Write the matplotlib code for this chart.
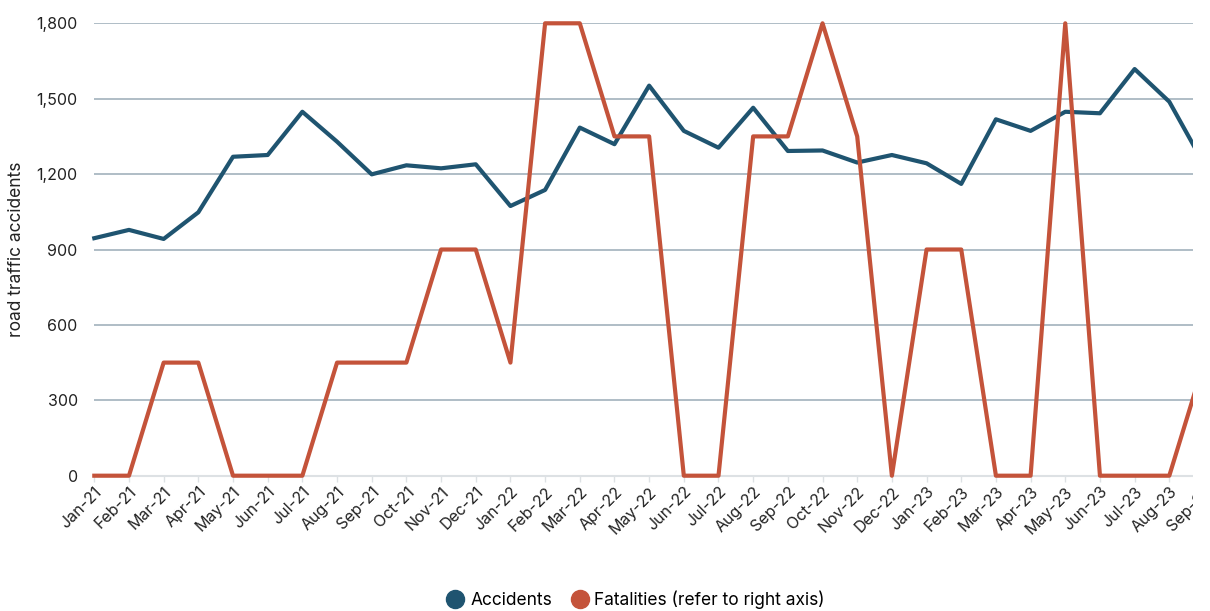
import matplotlib
matplotlib.use("Agg")
from matplotlib import pyplot as plt
from matplotlib.lines import Line2D
from matplotlib.patches import Rectangle

months = ['Jan-21', 'Feb-21', 'Mar-21', 'Apr-21', 'May-21', 'Jun-21', 'Jul-21', 'Aug-21',
          'Sep-21', 'Oct-21', 'Nov-21', 'Dec-21', 'Jan-22', 'Feb-22', 'Mar-22', 'Apr-22',
          'May-22', 'Jun-22', 'Jul-22', 'Aug-22', 'Sep-22', 'Oct-22', 'Nov-22', 'Dec-22',
          'Jan-23', 'Feb-23', 'Mar-23', 'Apr-23', 'May-23', 'Jun-23', 'Jul-23', 'Aug-23',
          'Sep-23']
accidents = [945, 978, 942, 1048, 1269, 1276, 1448, 1329, 1199, 1235, 1223, 1239,
             1073, 1137, 1385, 1319, 1552, 1372, 1305, 1464, 1292, 1294, 1246, 1276,
             1243, 1161, 1418, 1372, 1448, 1442, 1618, 1488, 1240]
fatalities = [0, 0, 1, 1, 0, 0, 0, 1, 1, 1, 2, 2, 1, 4, 4, 3, 3, 0, 0, 3, 3, 4, 3, 0,
              2, 2, 0, 0, 4, 0, 0, 0, 1]

blue = '#1f5470'
red = '#c4533a'
grid_col = '#a9b7c1'

plt.rcParams['font.family'] = ['Inter', 'DejaVu Sans']

W, H = 1210, 611
fig = plt.figure(figsize=(W / 100, H / 100), dpi=100)
step = (1169.3 - 94.3) / 31
x_right = 32.5
ax = fig.add_axes([94.3 / W, (H - 475.7) / H, x_right * step / W, 452.4 / H])

x = list(range(len(months)))
ax.set_xlim(0, x_right)
ax.set_ylim(0, 1800)
ax.set_yticks([0, 300, 600, 900, 1200, 1500, 1800])
ax.set_yticklabels(['0', '300', '600', '900', '1,200', '1,500', '1,800'])
ax.yaxis.grid(True, color=grid_col, linewidth=1.3)
ax.set_axisbelow(True)
for s in ['top', 'right', 'left']:
    ax.spines[s].set_visible(False)
ax.spines['bottom'].set_color('#dde1e4')
ax.spines['bottom'].set_linewidth(1.5)
ax.tick_params(axis='y', length=0, pad=12, labelsize=11.5, labelcolor='#222222')
ax.tick_params(axis='x', length=4, color='#dde1e4', width=1, pad=2,
               labelsize=11.5, labelcolor='#222222')
ax.set_xticks(x)
ax.set_xticklabels(months, rotation=45, ha='right', rotation_mode='anchor')
ax.set_ylabel('road traffic accidents', fontsize=12.5, color='#222222', labelpad=8)

ax.plot(x, accidents, color=blue, linewidth=3.0, clip_on=False, zorder=3)

ax2 = ax.twinx()
ax2.set_ylim(0, 4)
ax2.set_yticks([])
for s in ['top', 'right', 'left', 'bottom']:
    ax2.spines[s].set_visible(False)
ax2.plot(x, fatalities, color=red, linewidth=3.0, clip_on=False, zorder=3)

# the source chart is cut off at the right edge
fig.patches.append(Rectangle((1193 / W, 0), 1, 1, transform=fig.transFigure,
                             facecolor='white', edgecolor='none', zorder=20))

handles = [Line2D([], [], marker='o', linestyle='none', markersize=13, color=blue),
           Line2D([], [], marker='o', linestyle='none', markersize=13, color=red)]
fig.legend(handles, ['Accidents', 'Fatalities (refer to right axis)'], loc='center',
           bbox_to_anchor=(635 / W, 11 / H), ncol=2, frameon=False, fontsize=12.5,
           handletextpad=0.25, columnspacing=1.0, handlelength=1.2)

fig.savefig('out.png', dpi=100)
